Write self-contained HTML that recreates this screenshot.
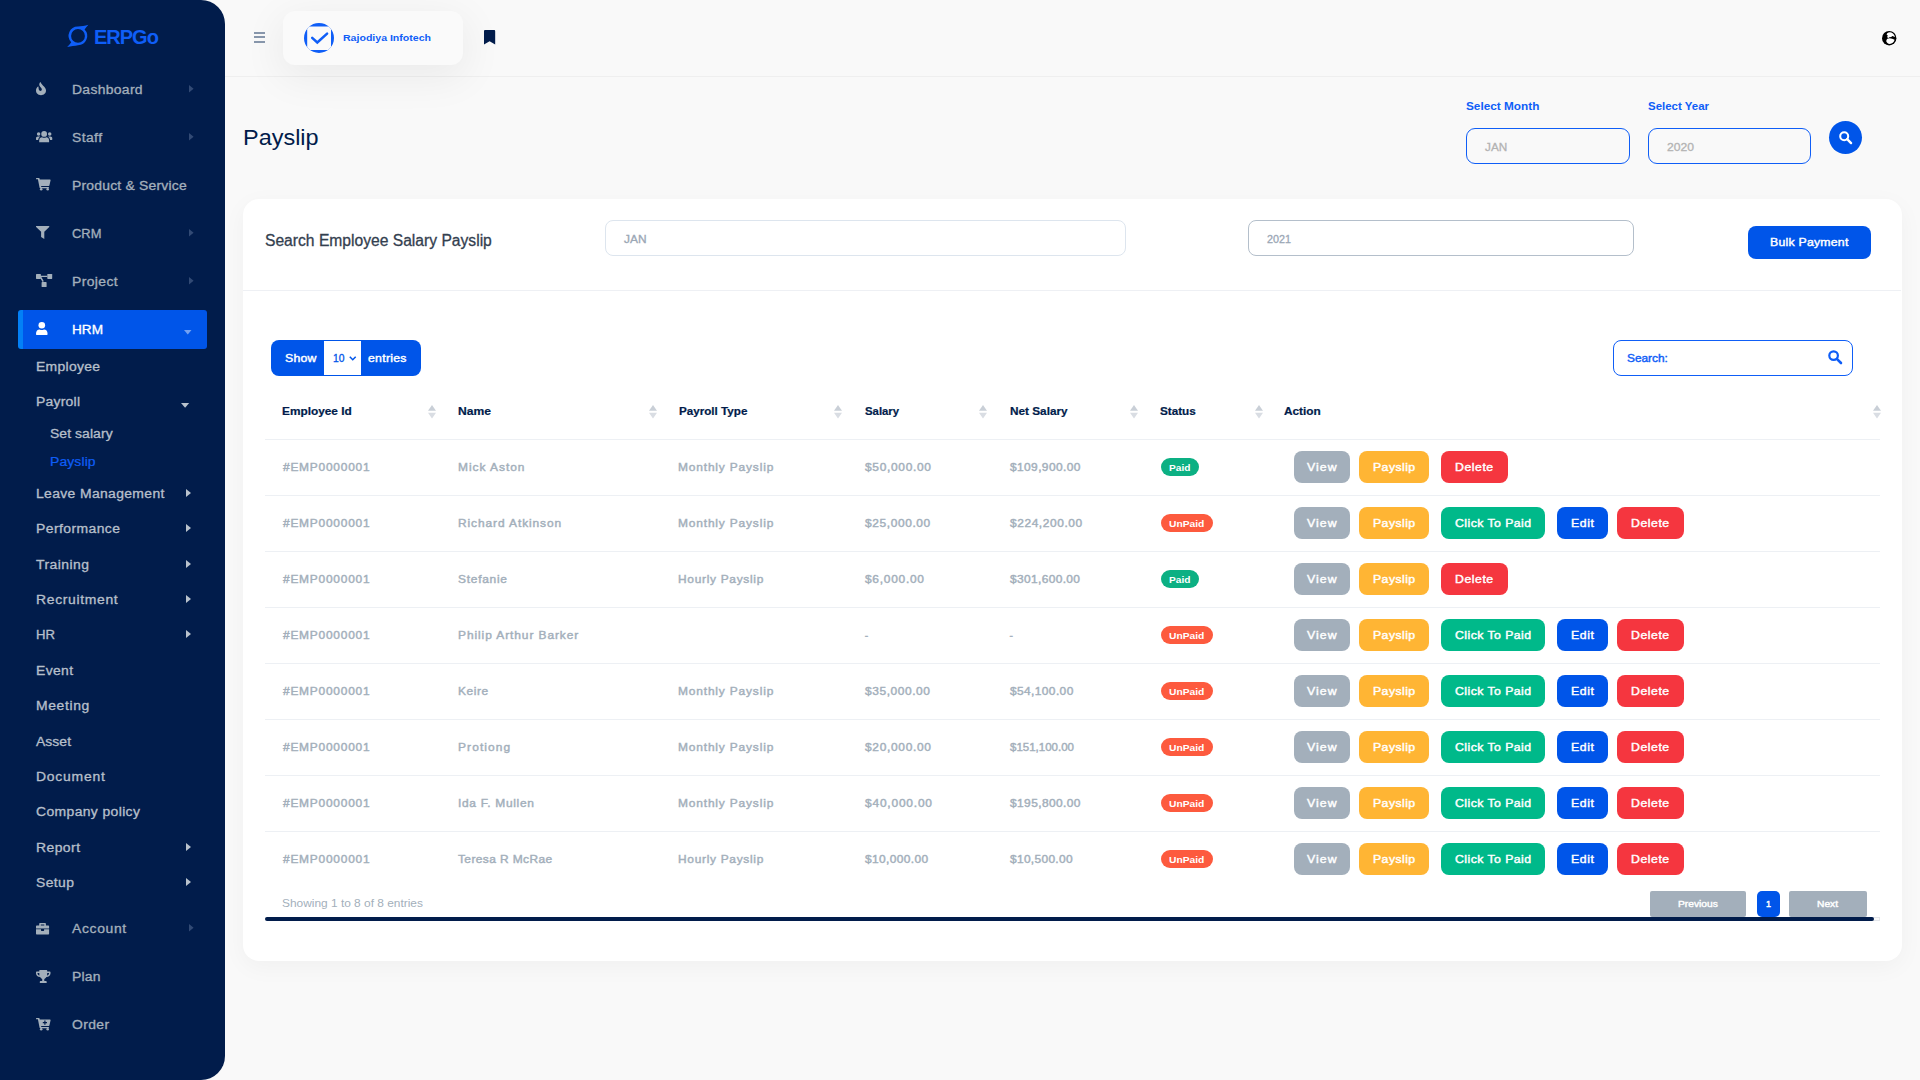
<!DOCTYPE html><html lang="en"><head><meta charset="utf-8"><title>Payslip</title><style>
*{box-sizing:border-box;margin:0;padding:0}
html,body{width:1920px;height:1080px;overflow:hidden;background:#f9f9f9;font-family:"Liberation Sans",sans-serif;}
.t{position:absolute;white-space:nowrap;line-height:20px;height:20px;display:block;transform-origin:0 50%}
.abs{position:absolute}
.b{font-weight:700}
#sb{position:absolute;left:0;top:0;width:225px;height:1080px;background:#011c4b;border-radius:0 24px 24px 0;}
#hdrline{position:absolute;left:225px;top:76px;width:1695px;height:1px;background:#efefef}
#cocard{position:absolute;left:283px;top:11px;width:180px;height:54px;border-radius:12px;background:#fafafa;box-shadow:0 10px 40px 4px rgba(0,0,0,.06)}
#card{position:absolute;left:243px;top:199px;width:1659px;height:762px;border-radius:16px;background:#fff;box-shadow:0 6px 24px rgba(0,0,0,.04)}
.btn{position:absolute;height:32px;border-radius:8px;color:#fff;font-size:12px;font-weight:700;line-height:32px;text-align:center;white-space:nowrap}
.pill{position:absolute;height:18px;border-radius:9px;color:#fff;font-size:10px;font-weight:700;line-height:17px;text-align:center}
.hl{position:absolute;left:265px;width:1615px;height:1px;background:#edf0f4}
svg{position:absolute;overflow:visible}
</style></head><body>
<div id="sb"></div>
<svg style="left:66px;top:24px" width="24" height="24" viewBox="0 0 24 24"><path fill="#0f5ef7" fill-rule="evenodd" d="M12 2.6 C15 2.2 19 1.8 22.4 0.8 C20.8 2.6 19.6 4.2 18.6 5.6 A9.2 9.2 0 0 1 12 21.2 C9 21.7 5 22.2 1.2 23 C3 21.3 4.3 19.7 5.2 18.2 A9.2 9.2 0 0 1 12 2.6 Z M12 5 A6.9 6.9 0 1 0 12 18.8 A6.9 6.9 0 1 0 12 5 Z"/></svg>
<span class="t b logo" style="color:#0f5ef7;left:94px;top:27px;font-size:20px;letter-spacing:-1.0px;">ERPGo</span>
<svg style="left:35.8px;top:81.9px" width="17" height="14" viewBox="0 0 17 14" fill="#a3afbb"><path d="M4.6 0 C5 1.6 6.6 3 8 4.6 C9.2 6 10 7.2 10 8.6 C10 11.4 7.8 13.2 5 13.2 C2.2 13.2 0 11.4 0 8.6 C0 7 .8 5.6 2 4.6 C2.2 4.4 2.5 4.6 2.5 4.9 C2.5 6.6 2.9 8.9 4.3 8.9 C5.4 8.9 5.9 8 5.8 7.2 C5.6 5.6 3 4.6 3.3 2 C3.4 1.2 3.9 .4 4.6 0 Z"/></svg>
<span class="t sb1" style="color:#a3afbb;left:72.1px;top:80px;font-size:12px;transform:scaleX(1.16);letter-spacing:0.269px;-webkit-text-stroke:0.3px;">Dashboard</span>
<svg style="left:188.6px;top:85.35000000000001px" width="4.6" height="7.6" viewBox="0 0 4.6 7.6"><path d="M0 0 L4.6 3.8 L0 7.6 Z" fill="#8fa0c4" opacity="0.35"/></svg>
<svg style="left:35.8px;top:130.9px" width="17" height="14" viewBox="0 0 17 14" fill="#a3afbb"><circle cx="8.15" cy="2.9" r="2.9"/><path d="M3.2 11.2 V9.4 C3.2 7.2 4.6 6.2 6 6.2 C6.8 6.6 7.4 6.7 8.15 6.7 C8.9 6.7 9.5 6.6 10.3 6.2 C11.7 6.2 13.1 7.2 13.1 9.4 V11.2 Z"/><circle cx="2.6" cy="3" r="1.75"/><circle cx="13.7" cy="3" r="1.75"/><path d="M0 8.4 V7.4 C0 6.2 .8 5.5 1.9 5.5 H3.3 C3.6 5.5 3.9 5.6 4.2 5.7 C3 6.4 2.3 7.4 2.2 8.9 H.5 C.2 8.9 0 8.7 0 8.4 Z"/><path d="M16.3 8.4 V7.4 C16.3 6.2 15.5 5.5 14.4 5.5 H13 C12.7 5.5 12.4 5.6 12.1 5.7 C13.3 6.4 14 7.4 14.1 8.9 H15.8 C16.1 8.9 16.3 8.7 16.3 8.4 Z"/></svg>
<span class="t sb1" style="color:#a3afbb;left:72.1px;top:128px;font-size:12px;transform:scaleX(1.16);letter-spacing:0.349px;-webkit-text-stroke:0.3px;">Staff</span>
<svg style="left:188.6px;top:133.35px" width="4.6" height="7.6" viewBox="0 0 4.6 7.6"><path d="M0 0 L4.6 3.8 L0 7.6 Z" fill="#8fa0c4" opacity="0.35"/></svg>
<svg style="left:35.8px;top:177.9px" width="17" height="14" viewBox="0 0 17 14" fill="#a3afbb"><path d="M.5 0 H3 C3.3 0 3.5 .2 3.6 .5 L3.8 1.5 H14 C14.4 1.5 14.7 1.9 14.6 2.3 L13.4 7.4 C13.3 7.7 13.1 7.9 12.8 7.9 H5.1 L5.3 8.9 H12.4 C12.8 8.9 13.1 9.3 13 9.7 L12.9 10.2 H4.2 C3.9 10.2 3.7 10 3.6 9.7 L1.9 1.3 H.5 C.2 1.3 0 1 0 .7 C0 .3 .2 0 .5 0 Z"/><circle cx="5.2" cy="11.3" r="1.25"/><circle cx="11.7" cy="11.3" r="1.25"/></svg>
<span class="t sb1" style="color:#a3afbb;left:72.1px;top:176px;font-size:12px;transform:scaleX(1.16);letter-spacing:0.177px;-webkit-text-stroke:0.3px;">Product &amp; Service</span>
<svg style="left:35.7px;top:225.8px" width="17" height="14" viewBox="0 0 17 14" fill="#a3afbb"><path d="M.5 0 H12.8 C13.3 0 13.5 .5 13.2 .9 L8.3 5.8 V13.1 L5.1 10.9 V5.8 L.1 .9 C-.2 .5 0 0 .5 0 Z"/></svg>
<span class="t sb1" style="color:#a3afbb;left:72.1px;top:224px;font-size:12px;transform:scaleX(1.0758);-webkit-text-stroke:0.3px;">CRM</span>
<svg style="left:188.6px;top:229.35px" width="4.6" height="7.6" viewBox="0 0 4.6 7.6"><path d="M0 0 L4.6 3.8 L0 7.6 Z" fill="#8fa0c4" opacity="0.35"/></svg>
<svg style="left:35.9px;top:273.9px" width="17" height="14" viewBox="0 0 17 14" fill="#a3afbb"><rect x="0" y="0" width="4.9" height="4.9" rx=".6"/><rect x="11.3" y="0" width="4.9" height="4.9" rx=".6"/><rect x="5.6" y="8.1" width="5" height="4.9" rx=".6"/><path d="M4.9 1.7 H11.3 V3.1 H5.4 L7.8 7.3 L6.6 8.1 L3.6 2.9 Z"/></svg>
<span class="t sb1" style="color:#a3afbb;left:72.1px;top:272px;font-size:12px;transform:scaleX(1.16);letter-spacing:0.341px;-webkit-text-stroke:0.3px;">Project</span>
<svg style="left:188.6px;top:277.34999999999997px" width="4.6" height="7.6" viewBox="0 0 4.6 7.6"><path d="M0 0 L4.6 3.8 L0 7.6 Z" fill="#8fa0c4" opacity="0.35"/></svg>
<div class="abs" style="left:18px;top:310px;width:189px;height:39px;border-radius:3px;background:#0055e9;border-left:5px solid #0380f6"></div>
<svg style="left:36px;top:322px" width="17" height="14" viewBox="0 0 17 14" fill="#fff"><circle cx="5.8" cy="3.3" r="3.3"/><path d="M0 12 C0 9 1.6 7.6 3.6 7.6 C4.4 8 5 8.1 5.8 8.1 C6.6 8.1 7.2 8 8 7.6 C10 7.6 11.6 9 11.6 12 C11.6 12.6 11.2 13 10.6 13 H1 C.4 13 0 12.6 0 12 Z"/></svg>
<span class="t sb1" style="color:#fff;left:72.1px;top:320px;font-size:12px;transform:scaleX(1.1343);-webkit-text-stroke:0.3px;">HRM</span>
<svg style="left:183.5px;top:330.25px" width="7.5" height="4.5" viewBox="0 0 7.5 4.5"><path d="M0 0 L7.5 0 L3.75 4.5 Z" fill="#fff" opacity="0.45"/></svg>
<span class="t sb2" style="color:#b6bfca;left:36.1px;top:357px;font-size:12px;transform:scaleX(1.16);letter-spacing:0.258px;-webkit-text-stroke:0.3px;">Employee</span>
<span class="t sb2" style="color:#b6bfca;left:36.1px;top:392px;font-size:12px;transform:scaleX(1.16);letter-spacing:0.208px;-webkit-text-stroke:0.3px;">Payroll</span>
<svg style="left:181px;top:403.3px" width="8.2" height="4.8" viewBox="0 0 8.2 4.8"><path d="M0 0 L8.2 0 L4.1 4.8 Z" fill="#b9c2cd" opacity="1"/></svg>
<span class="t sb2" style="color:#b6bfca;left:36.1px;top:484px;font-size:12px;transform:scaleX(1.16);letter-spacing:0.307px;-webkit-text-stroke:0.3px;">Leave Management</span>
<svg style="left:186.2px;top:489.4px" width="5" height="8" viewBox="0 0 5 8"><path d="M0 0 L5 4.0 L0 8 Z" fill="#b9c2cd" opacity="1"/></svg>
<span class="t sb2" style="color:#b6bfca;left:36.1px;top:519px;font-size:12px;transform:scaleX(1.16);letter-spacing:0.372px;-webkit-text-stroke:0.3px;">Performance</span>
<svg style="left:186.2px;top:524.4px" width="5" height="8" viewBox="0 0 5 8"><path d="M0 0 L5 4.0 L0 8 Z" fill="#b9c2cd" opacity="1"/></svg>
<span class="t sb2" style="color:#b6bfca;left:36.1px;top:555px;font-size:12px;transform:scaleX(1.16);letter-spacing:0.397px;-webkit-text-stroke:0.3px;">Training</span>
<svg style="left:186.2px;top:560.4px" width="5" height="8" viewBox="0 0 5 8"><path d="M0 0 L5 4.0 L0 8 Z" fill="#b9c2cd" opacity="1"/></svg>
<span class="t sb2" style="color:#b6bfca;left:36.1px;top:590px;font-size:12px;transform:scaleX(1.16);letter-spacing:0.574px;-webkit-text-stroke:0.3px;">Recruitment</span>
<svg style="left:186.2px;top:595.4px" width="5" height="8" viewBox="0 0 5 8"><path d="M0 0 L5 4.0 L0 8 Z" fill="#b9c2cd" opacity="1"/></svg>
<span class="t sb2" style="color:#b6bfca;left:36.1px;top:625px;font-size:12px;transform:scaleX(1.0962);-webkit-text-stroke:0.3px;">HR</span>
<svg style="left:186.2px;top:630.4px" width="5" height="8" viewBox="0 0 5 8"><path d="M0 0 L5 4.0 L0 8 Z" fill="#b9c2cd" opacity="1"/></svg>
<span class="t sb2" style="color:#b6bfca;left:36.1px;top:661px;font-size:12px;transform:scaleX(1.16);letter-spacing:0.302px;-webkit-text-stroke:0.3px;">Event</span>
<span class="t sb2" style="color:#b6bfca;left:36.1px;top:696px;font-size:12px;transform:scaleX(1.16);letter-spacing:0.542px;-webkit-text-stroke:0.3px;">Meeting</span>
<span class="t sb2" style="color:#b6bfca;left:36.1px;top:732px;font-size:12px;transform:scaleX(1.16);letter-spacing:0.04px;-webkit-text-stroke:0.3px;">Asset</span>
<span class="t sb2" style="color:#b6bfca;left:36.1px;top:767px;font-size:12px;transform:scaleX(1.16);letter-spacing:0.66px;-webkit-text-stroke:0.3px;">Document</span>
<span class="t sb2" style="color:#b6bfca;left:36.1px;top:802px;font-size:12px;transform:scaleX(1.16);letter-spacing:0.323px;-webkit-text-stroke:0.3px;">Company policy</span>
<span class="t sb2" style="color:#b6bfca;left:36.1px;top:838px;font-size:12px;transform:scaleX(1.16);letter-spacing:0.382px;-webkit-text-stroke:0.3px;">Report</span>
<svg style="left:186.2px;top:843.4px" width="5" height="8" viewBox="0 0 5 8"><path d="M0 0 L5 4.0 L0 8 Z" fill="#b9c2cd" opacity="1"/></svg>
<span class="t sb2" style="color:#b6bfca;left:36.1px;top:873px;font-size:12px;transform:scaleX(1.16);letter-spacing:0.328px;-webkit-text-stroke:0.3px;">Setup</span>
<svg style="left:186.2px;top:878.4px" width="5" height="8" viewBox="0 0 5 8"><path d="M0 0 L5 4.0 L0 8 Z" fill="#b9c2cd" opacity="1"/></svg>
<span class="t sb2" style="color:#b6bfca;left:49.5px;top:424px;font-size:12px;transform:scaleX(1.16);letter-spacing:0.068px;-webkit-text-stroke:0.3px;">Set salary</span>
<span class="t sb2" style="color:#0f5ef7;left:49.5px;top:452px;font-size:12px;transform:scaleX(1.16);letter-spacing:0.104px;-webkit-text-stroke:0.2px;">Payslip</span>
<svg style="left:35.9px;top:922.6px" width="17" height="14" viewBox="0 0 17 14" fill="#a3afbb"><path fill-rule="evenodd" d="M4.2 0 H8.9 C9.5 0 9.9 .4 9.9 1 V2.4 H12.1 C12.7 2.4 13.1 2.8 13.1 3.4 V5.4 H0 V3.4 C0 2.8 .4 2.4 1 2.4 H3.2 V1 C3.2 .4 3.6 0 4.2 0 Z M4.8 1.5 V2.4 H8.3 V1.5 Z"/><path d="M0 6.3 H5 V7.6 C5 7.9 5.2 8.1 5.5 8.1 H7.6 C7.9 8.1 8.1 7.9 8.1 7.6 V6.3 H13.1 V10.4 C13.1 11 12.7 11.4 12.1 11.4 H1 C.4 11.4 0 11 0 10.4 Z"/></svg>
<span class="t sb1" style="color:#a3afbb;left:72.1px;top:919px;font-size:12px;transform:scaleX(1.16);letter-spacing:0.561px;-webkit-text-stroke:0.3px;">Account</span>
<svg style="left:188.6px;top:924.4px" width="4.6" height="7.6" viewBox="0 0 4.6 7.6"><path d="M0 0 L4.6 3.8 L0 7.6 Z" fill="#8fa0c4" opacity="0.35"/></svg>
<svg style="left:35.9px;top:970px" width="17" height="14" viewBox="0 0 17 14" fill="#a3afbb"><path fill-rule="evenodd" d="M3.9 0 H10.6 C10.9 0 11.2 .3 11.2 .6 V1.6 H13.9 C14.2 1.6 14.5 1.9 14.5 2.2 V3.4 C14.5 5.2 12.7 6.8 10.4 7 C9.7 8.2 8.9 8.8 8.3 9 V11 H9.7 C10.3 11 10.7 11.4 10.7 12 V12.7 C10.7 12.9 10.6 13 10.4 13 H4.1 C3.9 13 3.8 12.9 3.8 12.7 V12 C3.8 11.4 4.2 11 4.8 11 H6.2 V9 C5.6 8.8 4.8 8.2 4.1 7 C1.8 6.8 0 5.2 0 3.4 V2.2 C0 1.9 .3 1.6 .6 1.6 H3.3 V.6 C3.3 .3 3.6 0 3.9 0 Z M1.5 3.1 V3.4 C1.5 4.2 2.3 5.1 3.5 5.4 C3.3 4.7 3.3 3.9 3.3 3.1 Z M13 3.1 H11.2 C11.2 3.9 11.2 4.7 11 5.4 C12.2 5.1 13 4.2 13 3.4 Z"/></svg>
<span class="t sb1" style="color:#a3afbb;left:72.1px;top:967px;font-size:12px;transform:scaleX(1.16);letter-spacing:0.183px;-webkit-text-stroke:0.3px;">Plan</span>
<svg style="left:35.8px;top:1017.9px" width="17" height="14" viewBox="0 0 17 14" fill="#a3afbb"><path fill-rule="evenodd" d="M.5 0 H3 C3.3 0 3.5 .2 3.6 .5 L3.8 1.5 H14 C14.4 1.5 14.7 1.9 14.6 2.3 L13.4 7.4 C13.3 7.7 13.1 7.9 12.8 7.9 H5.1 L5.3 8.9 H12.4 C12.8 8.9 13.1 9.3 13 9.7 L12.9 10.2 H4.2 C3.9 10.2 3.7 10 3.6 9.7 L1.9 1.3 H.5 C.2 1.3 0 1 0 .7 C0 .3 .2 0 .5 0 Z M8.3 2.6 V4.1 H6.8 V5.3 H8.3 V6.8 H9.5 V5.3 H11 V4.1 H9.5 V2.6 Z"/><circle cx="5.2" cy="11.3" r="1.25"/><circle cx="11.7" cy="11.3" r="1.25"/></svg>
<span class="t sb1" style="color:#a3afbb;left:72.1px;top:1015px;font-size:12px;transform:scaleX(1.16);letter-spacing:0.327px;-webkit-text-stroke:0.3px;">Order</span>
<div id="hdrline"></div>
<div id="cocard"></div>
<div class="abs" style="left:254px;top:32.2px;width:11.2px;height:2px;background:#8796ab"></div>
<div class="abs" style="left:254px;top:36.4px;width:11.2px;height:2px;background:#8796ab"></div>
<div class="abs" style="left:254px;top:40.6px;width:11.2px;height:2px;background:#8796ab"></div>
<svg style="left:304px;top:22.5px" width="30" height="30" viewBox="0 0 30 30"><defs><clipPath id="cc"><circle cx="15" cy="15" r="15"/></clipPath></defs><g clip-path="url(#cc)"><rect x="-2" y="-2" width="34" height="34" fill="#0f5ef7"/><rect x="3.2" y="3.6" width="23.8" height="23.5" rx="2.6" fill="#fafafa"/><path d="M8.2 14.8 L13.3 19.5 L23.1 10.6" fill="none" stroke="#0f5ef7" stroke-width="2.5" stroke-linecap="round" stroke-linejoin="miter"/></g></svg>
<span class="t b co" style="color:#0f5ef7;left:342.6px;top:28px;font-size:9.8px;transform:scaleX(1.0775);">Rajodiya Infotech</span>
<svg style="left:484px;top:30.2px" width="11.2" height="14.4" viewBox="0 0 11.2 14.4"><path d="M1.2 0 H10 C10.7 0 11.2 .5 11.2 1.2 V14.4 L5.6 11.2 L0 14.4 V1.2 C0 .5 .5 0 1.2 0 Z" fill="#011c4b"/></svg>
<svg style="left:1882.3px;top:30.9px" width="14.4" height="14.4" viewBox="0 0 14.4 14.4"><circle cx="7.2" cy="7.2" r="7.2" fill="#000"/><path d="M5.2 2.2 C6.6 1.2 9 1 10.6 2.2 C11.8 3.2 12.8 4.6 13 6 L10.4 5 L9.2 6 L7.4 6.2 L6 7.2 L5.2 5.8 L5.8 4.4 L4.6 3.6 Z" fill="#fff"/><path d="M5 8 C6.4 7 8.6 7 10.2 7.8 L12.6 8.8 C12 11.4 10 12.8 7.8 13 C6 12.8 4.4 11.6 4.2 10 Z" fill="#fff"/></svg>
<span class="t ttl" style="color:#011c4b;left:243.2px;top:128px;font-size:22px;transform:scaleX(1.066);">Payslip</span>
<span class="t b lbl" style="color:#0f5ef7;left:1466px;top:96px;font-size:10.6px;transform:scaleX(1.1128);">Select Month</span>
<span class="t b lbl" style="color:#0f5ef7;left:1647.6px;top:96px;font-size:10.6px;transform:scaleX(1.0818);">Select Year</span>
<div class="abs" style="left:1466px;top:128px;width:164px;height:36px;border:1px solid #0f5ef7;border-radius:9px"></div>
<div class="abs" style="left:1648px;top:128px;width:163px;height:36px;border:1px solid #0f5ef7;border-radius:9px"></div>
<span class="t in" style="color:#b3b3b3;left:1485.2px;top:137px;font-size:11.5px;transform:scaleX(1.0219);-webkit-text-stroke:0.3px;">JAN</span>
<span class="t in" style="color:#b3b3b3;left:1666.8px;top:137px;font-size:11.5px;transform:scaleX(1.0553);-webkit-text-stroke:0.3px;">2020</span>
<div class="abs" style="left:1829px;top:121px;width:33px;height:33px;border-radius:50%;background:#0055e9"></div>
<svg style="left:1839px;top:130.5px" width="13" height="13" viewBox="0 0 14 14"><circle cx="5.6" cy="5.6" r="4.3" fill="none" stroke="#fff" stroke-width="2.2"/><path d="M8.8 8.8 L13 13" stroke="#fff" stroke-width="2.6" stroke-linecap="round"/></svg>
<div id="card"></div>
<span class="t ch" style="color:#33404f;left:265.3px;top:231px;font-size:16px;transform:scaleX(0.9771);-webkit-text-stroke:0.3px;">Search Employee Salary Payslip</span>
<div class="abs" style="left:605px;top:220px;width:521px;height:36px;border:1px solid #dde5ee;border-radius:8px"></div>
<span class="t in" style="color:#9ba7b5;left:623.5px;top:230px;font-size:10.4px;transform:scaleX(1.1452);-webkit-text-stroke:0.3px;">JAN</span>
<div class="abs" style="left:1248px;top:220px;width:386px;height:36px;border:1px solid #b4bfcb;border-radius:8px"></div>
<span class="t in" style="color:#9ba7b5;left:1266.7px;top:230px;font-size:10.4px;transform:scaleX(1.0373);-webkit-text-stroke:0.3px;">2021</span>
<div class="abs" style="left:1748px;top:226px;width:123px;height:33px;border-radius:8px;background:#0055e9"></div>
<span class="t" style="color:#fff;left:1770px;top:232px;font-size:10.6px;transform:scaleX(1.16);letter-spacing:0.199px;-webkit-text-stroke:0.4px;">Bulk Payment</span>
<div class="abs" style="left:243px;top:290px;width:1658px;height:1px;background:#eef0f4"></div>
<div class="abs" style="left:271px;top:340px;width:150px;height:36px;border-radius:8px;background:#0055e9"></div>
<div class="abs" style="left:323.5px;top:341px;width:37.5px;height:34px;background:#fff"></div>
<span class="t se" style="color:#fff;left:285px;top:348px;font-size:10.6px;transform:scaleX(1.16);letter-spacing:0.213px;-webkit-text-stroke:0.4px;">Show</span>
<span class="t se" style="color:#0055e9;left:333.4px;top:348px;font-size:10.6px;transform:scaleX(0.9754);-webkit-text-stroke:0.3px;">10</span>
<svg style="left:349px;top:356px" width="7.5" height="5" viewBox="0 0 7.5 5"><path d="M0.8 0.8 L3.75 3.8 L6.7 0.8" fill="none" stroke="#0055e9" stroke-width="1.5"/></svg>
<span class="t se" style="color:#fff;left:368.2px;top:348px;font-size:10.6px;transform:scaleX(1.16);letter-spacing:0.229px;-webkit-text-stroke:0.4px;">entries</span>
<div class="abs" style="left:1613px;top:340px;width:240px;height:36px;border:1px solid #0f5ef7;border-radius:8px;background:#fff"></div>
<span class="t se" style="color:#0f5ef7;left:1627.4px;top:348px;font-size:10.6px;transform:scaleX(1.1196);-webkit-text-stroke:0.4px;">Search:</span>
<svg style="left:1827.5px;top:349.5px" width="14" height="14" viewBox="0 0 14 14"><circle cx="5.6" cy="5.6" r="4.3" fill="none" stroke="#0f5ef7" stroke-width="2.2"/><path d="M8.8 8.8 L13 13" stroke="#0f5ef7" stroke-width="2.6" stroke-linecap="round"/></svg>
<span class="t b th" style="color:#011c4b;left:282.4px;top:401px;font-size:10.6px;transform:scaleX(1.1178);-webkit-text-stroke:0.2px;">Employee Id</span>
<svg style="left:427.5px;top:404.8px" width="8" height="13.6" viewBox="0 0 8 13.6"><path d="M4 0 L8 5.8 H0 Z" fill="#c9cfd7"/><path d="M4 13.6 L8 7.8 H0 Z" fill="#d9dde3"/></svg>
<span class="t b th" style="color:#011c4b;left:457.7px;top:401px;font-size:10.6px;transform:scaleX(1.143);-webkit-text-stroke:0.2px;">Name</span>
<svg style="left:648.5px;top:404.8px" width="8" height="13.6" viewBox="0 0 8 13.6"><path d="M4 0 L8 5.8 H0 Z" fill="#c9cfd7"/><path d="M4 13.6 L8 7.8 H0 Z" fill="#d9dde3"/></svg>
<span class="t b th" style="color:#011c4b;left:678.6px;top:401px;font-size:10.6px;transform:scaleX(1.0988);-webkit-text-stroke:0.2px;">Payroll Type</span>
<svg style="left:834.4px;top:404.8px" width="8" height="13.6" viewBox="0 0 8 13.6"><path d="M4 0 L8 5.8 H0 Z" fill="#c9cfd7"/><path d="M4 13.6 L8 7.8 H0 Z" fill="#d9dde3"/></svg>
<span class="t b th" style="color:#011c4b;left:864.6px;top:401px;font-size:10.6px;transform:scaleX(1.0714);-webkit-text-stroke:0.2px;">Salary</span>
<svg style="left:979.4px;top:404.8px" width="8" height="13.6" viewBox="0 0 8 13.6"><path d="M4 0 L8 5.8 H0 Z" fill="#c9cfd7"/><path d="M4 13.6 L8 7.8 H0 Z" fill="#d9dde3"/></svg>
<span class="t b th" style="color:#011c4b;left:1009.5px;top:401px;font-size:10.6px;transform:scaleX(1.1109);-webkit-text-stroke:0.2px;">Net Salary</span>
<svg style="left:1130.4px;top:404.8px" width="8" height="13.6" viewBox="0 0 8 13.6"><path d="M4 0 L8 5.8 H0 Z" fill="#c9cfd7"/><path d="M4 13.6 L8 7.8 H0 Z" fill="#d9dde3"/></svg>
<span class="t b th" style="color:#011c4b;left:1160.4px;top:401px;font-size:10.6px;transform:scaleX(1.1051);-webkit-text-stroke:0.2px;">Status</span>
<svg style="left:1254.5px;top:404.8px" width="8" height="13.6" viewBox="0 0 8 13.6"><path d="M4 0 L8 5.8 H0 Z" fill="#c9cfd7"/><path d="M4 13.6 L8 7.8 H0 Z" fill="#d9dde3"/></svg>
<span class="t b th" style="color:#011c4b;left:1284.4px;top:401px;font-size:10.6px;transform:scaleX(1.116);-webkit-text-stroke:0.2px;">Action</span>
<svg style="left:1873px;top:404.8px" width="8" height="13.6" viewBox="0 0 8 13.6"><path d="M4 0 L8 5.8 H0 Z" fill="#c9cfd7"/><path d="M4 13.6 L8 7.8 H0 Z" fill="#d9dde3"/></svg>
<div class="hl" style="top:439px"></div>
<div class="hl" style="top:495px"></div>
<div class="hl" style="top:551px"></div>
<div class="hl" style="top:607px"></div>
<div class="hl" style="top:663px"></div>
<div class="hl" style="top:719px"></div>
<div class="hl" style="top:775px"></div>
<div class="hl" style="top:831px"></div>
<span class="t td" style="color:#a3afbb;left:282.7px;top:458px;font-size:10.3px;transform:scaleX(1.16);letter-spacing:0.651px;-webkit-text-stroke:0.4px;">#EMP0000001</span>
<span class="t td" style="color:#a3afbb;left:457.6px;top:458px;font-size:10.3px;transform:scaleX(1.16);letter-spacing:0.836px;-webkit-text-stroke:0.4px;">Mick Aston</span>
<span class="t td" style="color:#a3afbb;left:678.4px;top:458px;font-size:10.3px;transform:scaleX(1.16);letter-spacing:0.716px;-webkit-text-stroke:0.4px;">Monthly Payslip</span>
<span class="t td" style="color:#a3afbb;left:864.7px;top:458px;font-size:10.3px;transform:scaleX(1.16);letter-spacing:0.594px;-webkit-text-stroke:0.4px;">$50,000.00</span>
<span class="t td" style="color:#a3afbb;left:1009.6px;top:458px;font-size:10.3px;transform:scaleX(1.16);letter-spacing:0.341px;-webkit-text-stroke:0.4px;">$109,900.00</span>
<div class="pill" style="left:1160.7px;top:458px;width:38.2px;background:#0cb083"></div>
<span class="t b" style="color:#fff;left:1168.7px;top:458px;font-size:9px;transform:scaleX(1.1259);">Paid</span>
<div class="btn" style="left:1293.8px;top:451px;width:56.2px;background:#a3afbb"></div>
<span class="t" style="color:#fff;left:1307.0px;top:457px;font-size:10.6px;transform:scaleX(1.16);letter-spacing:0.911px;-webkit-text-stroke:0.4px;">View</span>
<div class="btn" style="left:1358.8px;top:451px;width:70.4px;background:#ffb534"></div>
<span class="t" style="color:#fff;left:1372.7px;top:457px;font-size:10.6px;transform:scaleX(1.16);letter-spacing:0.368px;-webkit-text-stroke:0.4px;">Payslip</span>
<div class="btn" style="left:1440.8px;top:451px;width:67.4px;background:#f5363f"></div>
<span class="t" style="color:#fff;left:1455.1000000000001px;top:457px;font-size:10.6px;transform:scaleX(1.16);letter-spacing:0.458px;-webkit-text-stroke:0.4px;">Delete</span>
<span class="t td" style="color:#a3afbb;left:282.7px;top:514px;font-size:10.3px;transform:scaleX(1.16);letter-spacing:0.651px;-webkit-text-stroke:0.4px;">#EMP0000001</span>
<span class="t td" style="color:#a3afbb;left:457.6px;top:514px;font-size:10.3px;transform:scaleX(1.16);letter-spacing:0.778px;-webkit-text-stroke:0.4px;">Richard Atkinson</span>
<span class="t td" style="color:#a3afbb;left:678.4px;top:514px;font-size:10.3px;transform:scaleX(1.16);letter-spacing:0.716px;-webkit-text-stroke:0.4px;">Monthly Payslip</span>
<span class="t td" style="color:#a3afbb;left:864.7px;top:514px;font-size:10.3px;transform:scaleX(1.16);letter-spacing:0.518px;-webkit-text-stroke:0.4px;">$25,000.00</span>
<span class="t td" style="color:#a3afbb;left:1009.6px;top:514px;font-size:10.3px;transform:scaleX(1.16);letter-spacing:0.496px;-webkit-text-stroke:0.4px;">$224,200.00</span>
<div class="pill" style="left:1160.7px;top:514px;width:52.3px;background:#fd5a3e"></div>
<span class="t b" style="color:#fff;left:1168.7px;top:514px;font-size:9px;transform:scaleX(1.1386);">UnPaid</span>
<div class="btn" style="left:1293.8px;top:507px;width:56.2px;background:#a3afbb"></div>
<span class="t" style="color:#fff;left:1307.0px;top:513px;font-size:10.6px;transform:scaleX(1.16);letter-spacing:0.911px;-webkit-text-stroke:0.4px;">View</span>
<div class="btn" style="left:1358.8px;top:507px;width:70.4px;background:#ffb534"></div>
<span class="t" style="color:#fff;left:1372.7px;top:513px;font-size:10.6px;transform:scaleX(1.16);letter-spacing:0.368px;-webkit-text-stroke:0.4px;">Payslip</span>
<div class="btn" style="left:1440.8px;top:507px;width:104.4px;background:#00b98a"></div>
<span class="t" style="color:#fff;left:1454.7px;top:513px;font-size:10.6px;transform:scaleX(1.16);letter-spacing:0.377px;-webkit-text-stroke:0.4px;">Click To Paid</span>
<div class="btn" style="left:1556.7px;top:507px;width:51.5px;background:#0055e9"></div>
<span class="t" style="color:#fff;left:1571.3px;top:513px;font-size:10.6px;transform:scaleX(1.16);letter-spacing:0.521px;-webkit-text-stroke:0.4px;">Edit</span>
<div class="btn" style="left:1616.9px;top:507px;width:67.4px;background:#f5363f"></div>
<span class="t" style="color:#fff;left:1631.3px;top:513px;font-size:10.6px;transform:scaleX(1.16);letter-spacing:0.458px;-webkit-text-stroke:0.4px;">Delete</span>
<span class="t td" style="color:#a3afbb;left:282.7px;top:570px;font-size:10.3px;transform:scaleX(1.16);letter-spacing:0.651px;-webkit-text-stroke:0.4px;">#EMP0000001</span>
<span class="t td" style="color:#a3afbb;left:457.6px;top:570px;font-size:10.3px;transform:scaleX(1.16);letter-spacing:0.635px;-webkit-text-stroke:0.4px;">Stefanie</span>
<span class="t td" style="color:#a3afbb;left:678.4px;top:570px;font-size:10.3px;transform:scaleX(1.16);letter-spacing:0.593px;-webkit-text-stroke:0.4px;">Hourly Payslip</span>
<span class="t td" style="color:#a3afbb;left:864.7px;top:570px;font-size:10.3px;transform:scaleX(1.16);letter-spacing:0.63px;-webkit-text-stroke:0.4px;">$6,000.00</span>
<span class="t td" style="color:#a3afbb;left:1009.6px;top:570px;font-size:10.3px;transform:scaleX(1.16);letter-spacing:0.307px;-webkit-text-stroke:0.4px;">$301,600.00</span>
<div class="pill" style="left:1160.7px;top:570px;width:38.2px;background:#0cb083"></div>
<span class="t b" style="color:#fff;left:1168.7px;top:570px;font-size:9px;transform:scaleX(1.1259);">Paid</span>
<div class="btn" style="left:1293.8px;top:563px;width:56.2px;background:#a3afbb"></div>
<span class="t" style="color:#fff;left:1307.0px;top:569px;font-size:10.6px;transform:scaleX(1.16);letter-spacing:0.911px;-webkit-text-stroke:0.4px;">View</span>
<div class="btn" style="left:1358.8px;top:563px;width:70.4px;background:#ffb534"></div>
<span class="t" style="color:#fff;left:1372.7px;top:569px;font-size:10.6px;transform:scaleX(1.16);letter-spacing:0.368px;-webkit-text-stroke:0.4px;">Payslip</span>
<div class="btn" style="left:1440.8px;top:563px;width:67.4px;background:#f5363f"></div>
<span class="t" style="color:#fff;left:1455.1000000000001px;top:569px;font-size:10.6px;transform:scaleX(1.16);letter-spacing:0.458px;-webkit-text-stroke:0.4px;">Delete</span>
<span class="t td" style="color:#a3afbb;left:282.7px;top:626px;font-size:10.3px;transform:scaleX(1.16);letter-spacing:0.651px;-webkit-text-stroke:0.4px;">#EMP0000001</span>
<span class="t td" style="color:#a3afbb;left:457.6px;top:626px;font-size:10.3px;transform:scaleX(1.16);letter-spacing:0.788px;-webkit-text-stroke:0.4px;">Philip Arthur Barker</span>
<span class="t td" style="color:#a3afbb;left:864.7px;top:626px;font-size:10.3px;-webkit-text-stroke:0.4px;">-</span>
<span class="t td" style="color:#a3afbb;left:1009.6px;top:626px;font-size:10.3px;-webkit-text-stroke:0.4px;">-</span>
<div class="pill" style="left:1160.7px;top:626px;width:52.3px;background:#fd5a3e"></div>
<span class="t b" style="color:#fff;left:1168.7px;top:626px;font-size:9px;transform:scaleX(1.1386);">UnPaid</span>
<div class="btn" style="left:1293.8px;top:619px;width:56.2px;background:#a3afbb"></div>
<span class="t" style="color:#fff;left:1307.0px;top:625px;font-size:10.6px;transform:scaleX(1.16);letter-spacing:0.911px;-webkit-text-stroke:0.4px;">View</span>
<div class="btn" style="left:1358.8px;top:619px;width:70.4px;background:#ffb534"></div>
<span class="t" style="color:#fff;left:1372.7px;top:625px;font-size:10.6px;transform:scaleX(1.16);letter-spacing:0.368px;-webkit-text-stroke:0.4px;">Payslip</span>
<div class="btn" style="left:1440.8px;top:619px;width:104.4px;background:#00b98a"></div>
<span class="t" style="color:#fff;left:1454.7px;top:625px;font-size:10.6px;transform:scaleX(1.16);letter-spacing:0.377px;-webkit-text-stroke:0.4px;">Click To Paid</span>
<div class="btn" style="left:1556.7px;top:619px;width:51.5px;background:#0055e9"></div>
<span class="t" style="color:#fff;left:1571.3px;top:625px;font-size:10.6px;transform:scaleX(1.16);letter-spacing:0.521px;-webkit-text-stroke:0.4px;">Edit</span>
<div class="btn" style="left:1616.9px;top:619px;width:67.4px;background:#f5363f"></div>
<span class="t" style="color:#fff;left:1631.3px;top:625px;font-size:10.6px;transform:scaleX(1.16);letter-spacing:0.458px;-webkit-text-stroke:0.4px;">Delete</span>
<span class="t td" style="color:#a3afbb;left:282.7px;top:682px;font-size:10.3px;transform:scaleX(1.16);letter-spacing:0.651px;-webkit-text-stroke:0.4px;">#EMP0000001</span>
<span class="t td" style="color:#a3afbb;left:457.6px;top:682px;font-size:10.3px;transform:scaleX(1.16);letter-spacing:0.497px;-webkit-text-stroke:0.4px;">Keire</span>
<span class="t td" style="color:#a3afbb;left:678.4px;top:682px;font-size:10.3px;transform:scaleX(1.16);letter-spacing:0.716px;-webkit-text-stroke:0.4px;">Monthly Payslip</span>
<span class="t td" style="color:#a3afbb;left:864.7px;top:682px;font-size:10.3px;transform:scaleX(1.16);letter-spacing:0.498px;-webkit-text-stroke:0.4px;">$35,000.00</span>
<span class="t td" style="color:#a3afbb;left:1009.6px;top:682px;font-size:10.3px;transform:scaleX(1.16);letter-spacing:0.336px;-webkit-text-stroke:0.4px;">$54,100.00</span>
<div class="pill" style="left:1160.7px;top:682px;width:52.3px;background:#fd5a3e"></div>
<span class="t b" style="color:#fff;left:1168.7px;top:682px;font-size:9px;transform:scaleX(1.1386);">UnPaid</span>
<div class="btn" style="left:1293.8px;top:675px;width:56.2px;background:#a3afbb"></div>
<span class="t" style="color:#fff;left:1307.0px;top:681px;font-size:10.6px;transform:scaleX(1.16);letter-spacing:0.911px;-webkit-text-stroke:0.4px;">View</span>
<div class="btn" style="left:1358.8px;top:675px;width:70.4px;background:#ffb534"></div>
<span class="t" style="color:#fff;left:1372.7px;top:681px;font-size:10.6px;transform:scaleX(1.16);letter-spacing:0.368px;-webkit-text-stroke:0.4px;">Payslip</span>
<div class="btn" style="left:1440.8px;top:675px;width:104.4px;background:#00b98a"></div>
<span class="t" style="color:#fff;left:1454.7px;top:681px;font-size:10.6px;transform:scaleX(1.16);letter-spacing:0.377px;-webkit-text-stroke:0.4px;">Click To Paid</span>
<div class="btn" style="left:1556.7px;top:675px;width:51.5px;background:#0055e9"></div>
<span class="t" style="color:#fff;left:1571.3px;top:681px;font-size:10.6px;transform:scaleX(1.16);letter-spacing:0.521px;-webkit-text-stroke:0.4px;">Edit</span>
<div class="btn" style="left:1616.9px;top:675px;width:67.4px;background:#f5363f"></div>
<span class="t" style="color:#fff;left:1631.3px;top:681px;font-size:10.6px;transform:scaleX(1.16);letter-spacing:0.458px;-webkit-text-stroke:0.4px;">Delete</span>
<span class="t td" style="color:#a3afbb;left:282.7px;top:738px;font-size:10.3px;transform:scaleX(1.16);letter-spacing:0.651px;-webkit-text-stroke:0.4px;">#EMP0000001</span>
<span class="t td" style="color:#a3afbb;left:457.6px;top:738px;font-size:10.3px;transform:scaleX(1.16);letter-spacing:0.948px;-webkit-text-stroke:0.4px;">Protiong</span>
<span class="t td" style="color:#a3afbb;left:678.4px;top:738px;font-size:10.3px;transform:scaleX(1.16);letter-spacing:0.716px;-webkit-text-stroke:0.4px;">Monthly Payslip</span>
<span class="t td" style="color:#a3afbb;left:864.7px;top:738px;font-size:10.3px;transform:scaleX(1.16);letter-spacing:0.594px;-webkit-text-stroke:0.4px;">$20,000.00</span>
<span class="t td" style="color:#a3afbb;left:1009.6px;top:738px;font-size:10.3px;transform:scaleX(1.1174);-webkit-text-stroke:0.4px;">$151,100.00</span>
<div class="pill" style="left:1160.7px;top:738px;width:52.3px;background:#fd5a3e"></div>
<span class="t b" style="color:#fff;left:1168.7px;top:738px;font-size:9px;transform:scaleX(1.1386);">UnPaid</span>
<div class="btn" style="left:1293.8px;top:731px;width:56.2px;background:#a3afbb"></div>
<span class="t" style="color:#fff;left:1307.0px;top:737px;font-size:10.6px;transform:scaleX(1.16);letter-spacing:0.911px;-webkit-text-stroke:0.4px;">View</span>
<div class="btn" style="left:1358.8px;top:731px;width:70.4px;background:#ffb534"></div>
<span class="t" style="color:#fff;left:1372.7px;top:737px;font-size:10.6px;transform:scaleX(1.16);letter-spacing:0.368px;-webkit-text-stroke:0.4px;">Payslip</span>
<div class="btn" style="left:1440.8px;top:731px;width:104.4px;background:#00b98a"></div>
<span class="t" style="color:#fff;left:1454.7px;top:737px;font-size:10.6px;transform:scaleX(1.16);letter-spacing:0.377px;-webkit-text-stroke:0.4px;">Click To Paid</span>
<div class="btn" style="left:1556.7px;top:731px;width:51.5px;background:#0055e9"></div>
<span class="t" style="color:#fff;left:1571.3px;top:737px;font-size:10.6px;transform:scaleX(1.16);letter-spacing:0.521px;-webkit-text-stroke:0.4px;">Edit</span>
<div class="btn" style="left:1616.9px;top:731px;width:67.4px;background:#f5363f"></div>
<span class="t" style="color:#fff;left:1631.3px;top:737px;font-size:10.6px;transform:scaleX(1.16);letter-spacing:0.458px;-webkit-text-stroke:0.4px;">Delete</span>
<span class="t td" style="color:#a3afbb;left:282.7px;top:794px;font-size:10.3px;transform:scaleX(1.16);letter-spacing:0.651px;-webkit-text-stroke:0.4px;">#EMP0000001</span>
<span class="t td" style="color:#a3afbb;left:457.6px;top:794px;font-size:10.3px;transform:scaleX(1.16);letter-spacing:0.586px;-webkit-text-stroke:0.4px;">Ida F. Mullen</span>
<span class="t td" style="color:#a3afbb;left:678.4px;top:794px;font-size:10.3px;transform:scaleX(1.16);letter-spacing:0.716px;-webkit-text-stroke:0.4px;">Monthly Payslip</span>
<span class="t td" style="color:#a3afbb;left:864.7px;top:794px;font-size:10.3px;transform:scaleX(1.16);letter-spacing:0.69px;-webkit-text-stroke:0.4px;">$40,000.00</span>
<span class="t td" style="color:#a3afbb;left:1009.6px;top:794px;font-size:10.3px;transform:scaleX(1.16);letter-spacing:0.35px;-webkit-text-stroke:0.4px;">$195,800.00</span>
<div class="pill" style="left:1160.7px;top:794px;width:52.3px;background:#fd5a3e"></div>
<span class="t b" style="color:#fff;left:1168.7px;top:794px;font-size:9px;transform:scaleX(1.1386);">UnPaid</span>
<div class="btn" style="left:1293.8px;top:787px;width:56.2px;background:#a3afbb"></div>
<span class="t" style="color:#fff;left:1307.0px;top:793px;font-size:10.6px;transform:scaleX(1.16);letter-spacing:0.911px;-webkit-text-stroke:0.4px;">View</span>
<div class="btn" style="left:1358.8px;top:787px;width:70.4px;background:#ffb534"></div>
<span class="t" style="color:#fff;left:1372.7px;top:793px;font-size:10.6px;transform:scaleX(1.16);letter-spacing:0.368px;-webkit-text-stroke:0.4px;">Payslip</span>
<div class="btn" style="left:1440.8px;top:787px;width:104.4px;background:#00b98a"></div>
<span class="t" style="color:#fff;left:1454.7px;top:793px;font-size:10.6px;transform:scaleX(1.16);letter-spacing:0.377px;-webkit-text-stroke:0.4px;">Click To Paid</span>
<div class="btn" style="left:1556.7px;top:787px;width:51.5px;background:#0055e9"></div>
<span class="t" style="color:#fff;left:1571.3px;top:793px;font-size:10.6px;transform:scaleX(1.16);letter-spacing:0.521px;-webkit-text-stroke:0.4px;">Edit</span>
<div class="btn" style="left:1616.9px;top:787px;width:67.4px;background:#f5363f"></div>
<span class="t" style="color:#fff;left:1631.3px;top:793px;font-size:10.6px;transform:scaleX(1.16);letter-spacing:0.458px;-webkit-text-stroke:0.4px;">Delete</span>
<span class="t td" style="color:#a3afbb;left:282.7px;top:850px;font-size:10.3px;transform:scaleX(1.16);letter-spacing:0.651px;-webkit-text-stroke:0.4px;">#EMP0000001</span>
<span class="t td" style="color:#a3afbb;left:457.6px;top:850px;font-size:10.3px;transform:scaleX(1.16);letter-spacing:0.347px;-webkit-text-stroke:0.4px;">Teresa R McRae</span>
<span class="t td" style="color:#a3afbb;left:678.4px;top:850px;font-size:10.3px;transform:scaleX(1.16);letter-spacing:0.593px;-webkit-text-stroke:0.4px;">Hourly Payslip</span>
<span class="t td" style="color:#a3afbb;left:864.7px;top:850px;font-size:10.3px;transform:scaleX(1.16);letter-spacing:0.326px;-webkit-text-stroke:0.4px;">$10,000.00</span>
<span class="t td" style="color:#a3afbb;left:1009.6px;top:850px;font-size:10.3px;transform:scaleX(1.16);letter-spacing:0.269px;-webkit-text-stroke:0.4px;">$10,500.00</span>
<div class="pill" style="left:1160.7px;top:850px;width:52.3px;background:#fd5a3e"></div>
<span class="t b" style="color:#fff;left:1168.7px;top:850px;font-size:9px;transform:scaleX(1.1386);">UnPaid</span>
<div class="btn" style="left:1293.8px;top:843px;width:56.2px;background:#a3afbb"></div>
<span class="t" style="color:#fff;left:1307.0px;top:849px;font-size:10.6px;transform:scaleX(1.16);letter-spacing:0.911px;-webkit-text-stroke:0.4px;">View</span>
<div class="btn" style="left:1358.8px;top:843px;width:70.4px;background:#ffb534"></div>
<span class="t" style="color:#fff;left:1372.7px;top:849px;font-size:10.6px;transform:scaleX(1.16);letter-spacing:0.368px;-webkit-text-stroke:0.4px;">Payslip</span>
<div class="btn" style="left:1440.8px;top:843px;width:104.4px;background:#00b98a"></div>
<span class="t" style="color:#fff;left:1454.7px;top:849px;font-size:10.6px;transform:scaleX(1.16);letter-spacing:0.377px;-webkit-text-stroke:0.4px;">Click To Paid</span>
<div class="btn" style="left:1556.7px;top:843px;width:51.5px;background:#0055e9"></div>
<span class="t" style="color:#fff;left:1571.3px;top:849px;font-size:10.6px;transform:scaleX(1.16);letter-spacing:0.521px;-webkit-text-stroke:0.4px;">Edit</span>
<div class="btn" style="left:1616.9px;top:843px;width:67.4px;background:#f5363f"></div>
<span class="t" style="color:#fff;left:1631.3px;top:849px;font-size:10.6px;transform:scaleX(1.16);letter-spacing:0.458px;-webkit-text-stroke:0.4px;">Delete</span>
<span class="t ft" style="color:#a3afbb;left:282.4px;top:893px;font-size:10.5px;transform:scaleX(1.1333);">Showing 1 to 8 of 8 entries</span>
<div class="abs" style="left:1650px;top:891px;width:96px;height:26px;border-radius:2px;background:#a3afbb"></div>
<span class="t" style="color:#fff;left:1678px;top:894px;font-size:9px;transform:scaleX(1.1366);-webkit-text-stroke:0.4px;">Previous</span>
<div class="abs" style="left:1757px;top:891px;width:23px;height:26px;border-radius:5px;background:#0055e9"></div>
<span class="t" style="color:#fff;left:1766px;top:894px;font-size:9px;-webkit-text-stroke:0.4px;">1</span>
<div class="abs" style="left:1789px;top:891px;width:78px;height:26px;border-radius:2px;background:#a3afbb"></div>
<span class="t" style="color:#fff;left:1817.4px;top:894px;font-size:9px;transform:scaleX(1.1348);-webkit-text-stroke:0.4px;">Next</span>
<div class="abs" style="left:1872px;top:916.5px;width:8px;height:4.5px;border:1px solid #e4e6ea;background:#fafafa"></div>
<div class="abs" style="left:265px;top:916.5px;width:1609px;height:4.5px;border-radius:3px;background:#011c4b"></div>
</body></html>
